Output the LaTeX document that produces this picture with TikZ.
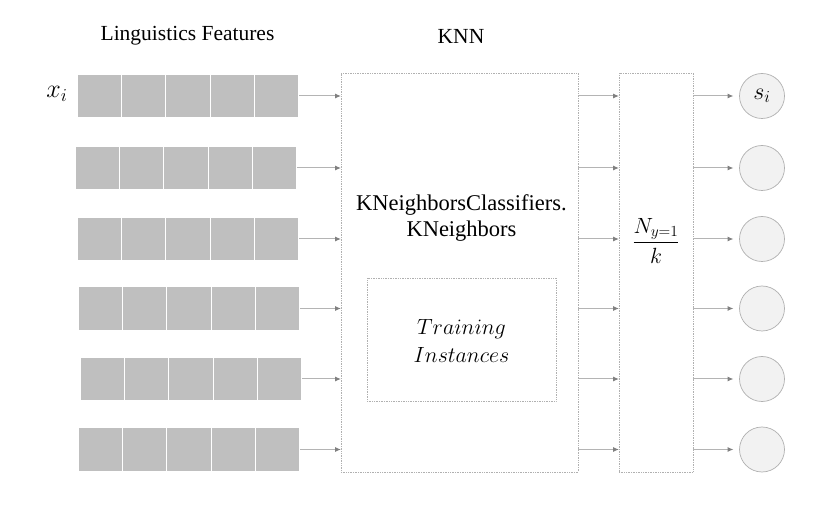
\RequirePackage{fix-cm}
\documentclass[tikz,border=0pt]{standalone}
\usepackage{amsmath}
\usepackage{fontspec}
\setmainfont{Liberation Serif}
\usetikzlibrary{arrows.meta,positioning,calc}
\definecolor{cellgray}{HTML}{BFBFBF}
\definecolor{linegray}{HTML}{B4B4B4}
\definecolor{tipgray}{HTML}{808080}
\definecolor{dotgray}{HTML}{B0B0B0}
\definecolor{outfill}{HTML}{F2F2F2}

\begin{document}
\begin{tikzpicture}[x=1pt,y=-1pt,
  cell/.style={fill=cellgray,draw=white,line width=1.2pt,minimum width=44.4pt,minimum height=44pt,inner sep=0pt,outer sep=0pt},
  dotbox/.style={draw=dotgray,densely dotted,line width=0.7pt,inner sep=0pt,outer sep=0pt},
  flow/.style={draw=linegray,line width=1pt,-{Latex[length=6pt,width=5pt,color=tipgray]}},
  outnode/.style={circle,fill=outfill,draw=dotgray,line width=0.7pt,minimum size=45pt,inner sep=0pt,outer sep=0pt},
  lbl/.style={font=\fontsize{21.5}{26}\selectfont}]
\useasboundingbox (0,0) rectangle (830,518);
\node[lbl] (featlbl) at (187.5,36) {Linguistics Features};
\node[lbl] (knnlbl) at (461,36) {KNN};
\node[font=\fontsize{26}{30}\selectfont] (xi) at (57,94) {$x_i$};
\node[dotbox,minimum width=237pt,minimum height=399pt] (knn) at (459.5,272.5) {};
\node[dotbox,minimum width=74pt,minimum height=399pt] (norm) at (656,272.5) {};
\node[dotbox,minimum width=189pt,minimum height=123pt] (train) at (461.5,339.5) {};
\node[font=\fontsize{22.5}{26}\selectfont,align=center] (knntxt) at (461.5,218) {KNeighborsClassifiers.\\KNeighbors};
\node[font=\fontsize{22}{28}\selectfont,align=center] (traintxt) at (461.5,341) {$Training$\\$Instances$};
\node[font=\fontsize{22}{26}\selectfont] (ratio) at (656,241) {$\dfrac{N_{y=1}}{k}$};
\foreach \r/\y/\dx in {1/96/77,2/168/75,3/239/77,4/308.5/78,5/379/80,6/449.5/78}{
\foreach \k in {1,...,5}{
\node[cell] (c\r-\k) at ({\dx+22.2+(\k-1)*44.4},\y) {};
}
\node[outnode] (s\r) at (762,\y) {};
\draw[flow] (c\r-5.east) -- (c\r-5.east -| knn.west);
\draw[flow] (c\r-5.east -| knn.east) -- (c\r-5.east -| norm.west);
\draw[flow,shorten >=6pt] (c\r-5.east -| norm.east) -- (s\r.west);
}
\node[font=\fontsize{24}{28}\selectfont] (silbl) at (s1.center) {$s_i$};
\end{tikzpicture}
\end{document}
